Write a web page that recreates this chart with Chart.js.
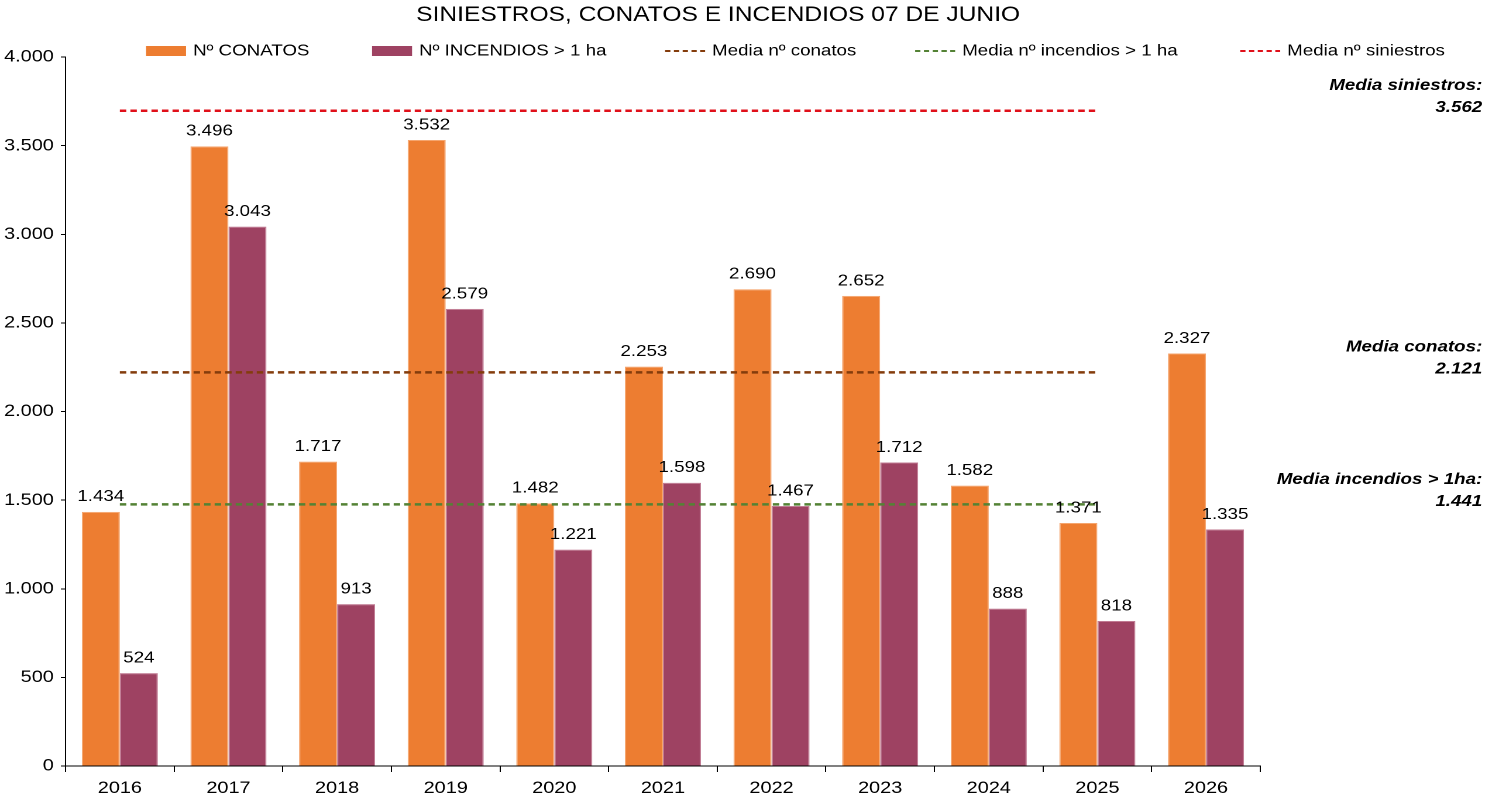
<!DOCTYPE html>
<html>
<head>
<meta charset="utf-8">
<script src="https://cdn.jsdelivr.net/npm/chart.js@4/dist/chart.umd.min.js"></script>
<style>
  html, body { margin: 0; padding: 0; background: #ffffff; overflow: hidden; }
  #c { display: block; width: 1499px; height: 803px; }
</style>
</head>
<body>
<canvas id="c" width="1281" height="803" style="width:1499px;height:803px"></canvas>
<script>
const categories = ['2016','2017','2018','2019','2020','2021','2022','2023','2024','2025','2026'];
const conatos    = [1434, 3496, 1717, 3532, 1482, 2253, 2690, 2652, 1582, 1371, 2327];
const incendios  = [524, 3043, 913, 2579, 1221, 1598, 1467, 1712, 888, 818, 1335];
// mean lines as drawn (span 2016-2025)
const mediaConatos    = [2221, 2221, 2221, 2221, 2221, 2221, 2221, 2221, 2221, 2221, null];
const mediaIncendios  = [1476, 1476, 1476, 1476, 1476, 1476, 1476, 1476, 1476, 1476, null];
const mediaSiniestros = [3697, 3697, 3697, 3697, 3697, 3697, 3697, 3697, 3697, 3697, null];
const yTicks = [0, 500, 1000, 1500, 2000, 2500, 3000, 3500, 4000];
const titleText = 'SINIESTROS, CONATOS E INCENDIOS 07 DE JUNIO';
const seriesLabels = ['Nº CONATOS', 'Nº INCENDIOS > 1 ha', 'Media nº conatos', 'Media nº incendios > 1 ha', 'Media nº siniestros'];
const annotations = [
  { dataset: 4, title: 'Media siniestros:', value: '3.562' },
  { dataset: 2, title: 'Media conatos:', value: '2.121' },
  { dataset: 3, title: 'Media incendios > 1ha:', value: '1.441' }
];

const FONT = '"Liberation Sans", Arial, sans-serif';
const SX = 1.17; // horizontal stretch of the whole picture
function fmt(v) {
  return String(Math.round(v)).replace(/\B(?=(\d{3})+(?!\d))/g, '.');
}

const extras = {
  id: 'extras',
  afterDatasetsDraw(chart) {
    const ctx = chart.ctx;
    ctx.save();
    ctx.font = '16px ' + FONT;
    ctx.fillStyle = '#000';
    ctx.textAlign = 'center';
    ctx.textBaseline = 'bottom';
    chart.data.datasets.forEach((ds, di) => {
      if (ds.type !== 'bar') return;
      const meta = chart.getDatasetMeta(di);
      meta.data.forEach((el, i) => {
        ctx.fillText(fmt(ds.data[i]), el.x, el.y - 7);
      });
    });
    ctx.restore();
  },
  afterDraw(chart) {
    const ctx = chart.ctx;
    const ys = chart.scales.y;
    ctx.save();
    // title
    ctx.font = '21px ' + FONT;
    ctx.fillStyle = '#000';
    ctx.textAlign = 'center';
    ctx.textBaseline = 'middle';
    ctx.fillText(titleText, 718 / SX, 15);
    // legend
    const xs = [146, 372, 665, 915, 1240].map(v => v / SX);
    const ly = 51;
    const bw = 40 / SX;
    ctx.font = '16px ' + FONT;
    ctx.textAlign = 'left';
    chart.data.datasets.forEach((ds, di) => {
      const x = xs[di];
      if (ds.type === 'bar') {
        ctx.fillStyle = ds.backgroundColor;
        ctx.fillRect(x, ly - 5, bw, 10);
      } else {
        ctx.strokeStyle = ds.borderColor;
        ctx.lineWidth = 2;
        ctx.setLineDash([4.5, 3]);
        ctx.beginPath();
        ctx.moveTo(x, ly);
        ctx.lineTo(x + bw, ly);
        ctx.stroke();
        ctx.setLineDash([]);
      }
      ctx.fillStyle = '#000';
      ctx.fillText(ds.label, x + 47 / SX, ly);
    });
    // right annotations
    ctx.font = 'italic bold 16px ' + FONT;
    ctx.textAlign = 'right';
    ctx.textBaseline = 'middle';
    annotations.forEach(a => {
      const v = chart.data.datasets[a.dataset].data[0];
      const py = ys.getPixelForValue(v);
      ctx.fillText(a.title, 1482 / SX, py - 25);
      ctx.fillText(a.value, 1482 / SX, py - 3);
    });
    ctx.restore();
  }
};

const lineDs = (label, data, color) => ({
  type: 'line', label, data, borderColor: color, backgroundColor: color,
  borderWidth: 2.5, borderDash: [5.5, 3.5], pointRadius: 0, pointHoverRadius: 0,
  fill: false, spanGaps: false, order: 0, tension: 0
});

new Chart(document.getElementById('c'), {
  type: 'bar',
  data: {
    labels: categories,
    datasets: [
      { type: 'bar', label: seriesLabels[0], data: conatos, backgroundColor: '#ED7D31',
        borderColor: '#F5A56E', borderWidth: 1, categoryPercentage: 0.7, barPercentage: 1.0, order: 1 },
      { type: 'bar', label: seriesLabels[1], data: incendios, backgroundColor: '#9E4262',
        borderColor: '#C07A92', borderWidth: 1, categoryPercentage: 0.7, barPercentage: 1.0, order: 1 },
      lineDs(seriesLabels[2], mediaConatos, '#843C0C'),
      lineDs(seriesLabels[3], mediaIncendios, '#548235'),
      lineDs(seriesLabels[4], mediaSiniestros, '#E0101A')
    ]
  },
  options: {
    responsive: false,
    animation: false,
    devicePixelRatio: 2,
    layout: { padding: { left: 0, right: 204, top: 57, bottom: 0 } },
    plugins: {
      legend: { display: false },
      title: { display: false },
      tooltip: { enabled: false }
    },
    scales: {
      x: {
        offset: true,
        grid: { display: true, drawOnChartArea: false, drawTicks: true, tickLength: 6, color: '#000', offset: true },
        border: { display: true, color: '#000', width: 1 },
        ticks: { color: '#000', font: { family: FONT, size: 17 }, padding: 6, maxRotation: 0 },
        afterFit(s) { s.height = 37; }
      },
      y: {
        min: 0, max: 4000,
        afterBuildTicks(s) { s.ticks = yTicks.map(v => ({ value: v })); },
        grid: { display: true, drawOnChartArea: false, drawTicks: true, tickLength: 4, color: '#000' },
        border: { display: true, color: '#000', width: 1 },
        ticks: { color: '#000', font: { family: FONT, size: 17 }, padding: 6, callback: v => fmt(v) },
        afterFit(s) { s.width = 56; }
      }
    }
  },
  plugins: [extras]
});
</script>
</body>
</html>
